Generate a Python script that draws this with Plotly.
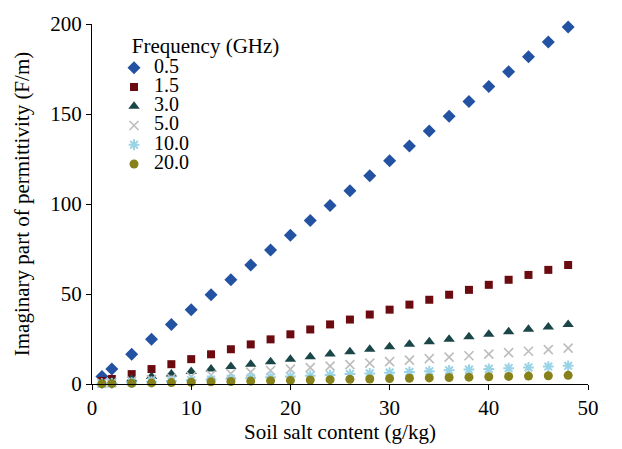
import plotly.graph_objects as go

salt = [1, 2, 4, 6, 8, 10, 12, 14, 16, 18, 20, 22, 24, 26, 28, 30, 32, 34, 36, 38, 40, 42, 44, 46, 48]

f_05 = [4.2, 8.3, 16.5, 24.8, 33.0, 41.3, 49.6, 57.9, 66.1, 74.4, 82.6, 90.9, 99.2, 107.4, 115.7,
        124.0, 132.2, 140.5, 148.8, 157.0, 165.3, 173.5, 181.8, 190.0, 198.3]
f_15 = [1.7, 2.8, 5.5, 8.3, 11.0, 13.8, 16.5, 19.3, 22.0, 24.8, 27.6, 30.3, 33.1, 35.8, 38.6,
        41.3, 44.1, 46.8, 49.6, 52.3, 55.1, 57.9, 60.6, 63.4, 66.1]
f_30 = [0.7, 1.4, 2.8, 4.1, 5.5, 6.9, 8.3, 9.7, 11.0, 12.4, 13.8, 15.2, 16.6, 17.9, 19.3,
        20.7, 22.1, 23.5, 24.8, 26.2, 27.6, 29.0, 30.4, 31.7, 33.1]
f_50 = [0.4, 0.8, 1.7, 2.5, 3.3, 4.1, 5.0, 5.8, 6.6, 7.5, 8.3, 9.1, 9.9, 10.8, 11.6,
        12.4, 13.3, 14.1, 14.9, 15.7, 16.6, 17.4, 18.2, 19.1, 19.9]
f_100 = [0.2, 0.4, 0.8, 1.3, 1.7, 2.1, 2.5, 2.9, 3.4, 3.8, 4.2, 4.6, 5.0, 5.5, 5.9,
         6.3, 6.7, 7.1, 7.6, 8.0, 8.4, 8.8, 9.2, 9.7, 10.1]
f_200 = [0.1, 0.2, 0.4, 0.6, 0.8, 1.0, 1.2, 1.4, 1.6, 1.8, 2.0, 2.2, 2.4, 2.6, 2.8,
         3.0, 3.2, 3.4, 3.6, 3.8, 4.0, 4.2, 4.4, 4.6, 4.8]

names = ["0.5", "1.5", "3.0", "5.0", "10.0", "20.0"]
series = [f_05, f_15, f_30, f_50, f_100, f_200]

FONT = "Liberation Serif, Tinos, Times New Roman, DejaVu Serif, serif"
styles = [
    dict(symbol="diamond", size=10, color="#2352a3"),
    dict(symbol="square", size=8, color="#6b0b10"),
    dict(symbol="triangle-up", size=10, color="#1b4647"),
    dict(symbol="x-thin-open", size=9, color="#bdbdbd", line=dict(width=1.6, color="#bdbdbd")),
    dict(symbol="asterisk-open", size=9, color="#9ad3e6", line=dict(width=2, color="#9ad3e6")),
    dict(symbol="circle", size=9, color="#86811a"),
]

fig = go.Figure()
for n, ys, st in zip(names, series, styles):
    fig.add_trace(go.Scatter(
        x=salt, y=ys, mode="markers", name=f"<span style='font-size:20px'>{n}</span>",
        marker=st, cliponaxis=False,
    ))

fig.update_layout(
    width=622, height=449,
    margin=dict(l=92, r=34, t=17, b=56),
    paper_bgcolor="white", plot_bgcolor="white",
    font=dict(family=FONT, size=21, color="black"),
    showlegend=True,
    legend=dict(
        x=0.0444, y=0.995, xanchor="left", yanchor="top",
        bgcolor="rgba(0,0,0,0)",
        font=dict(family=FONT, size=12.5, color="black"),
        title=dict(text="&nbsp;&nbsp;&nbsp;Frequency (GHz)", font=dict(family=FONT, size=21, color="black")),
        tracegroupgap=0,
    ),
    xaxis=dict(
        range=[0, 50], dtick=10, showgrid=False, zeroline=False,
        showline=True, linecolor="black", linewidth=1,
        ticks="outside", ticklen=5, tickcolor="black",
        tickfont=dict(family=FONT, size=21),
        title=dict(text="Soil salt content (g/kg)", font=dict(family=FONT, size=21), standoff=2),
    ),
    yaxis=dict(
        range=[0, 200], dtick=50, showgrid=False, zeroline=False,
        showline=True, linecolor="black", linewidth=1,
        ticks="outside", ticklen=5, tickcolor="black",
        tickfont=dict(family=FONT, size=21),
        title=dict(text="Imaginary part of permittivity (F/m)", font=dict(family=FONT, size=21), standoff=14),
    ),
)

fig.write_html("out.html")
